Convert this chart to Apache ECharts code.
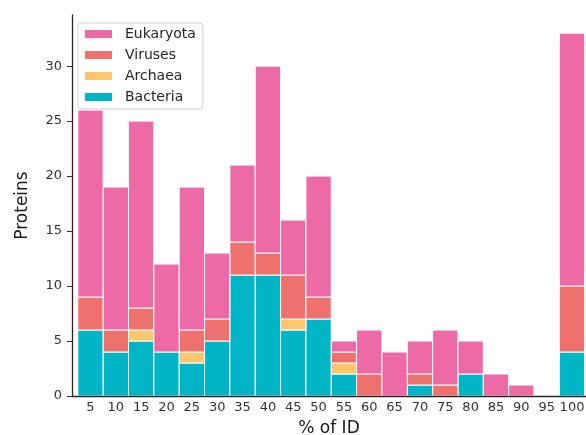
<!DOCTYPE html>
<html>
<head>
<meta charset="utf-8">
<script src="https://cdn.jsdelivr.net/npm/echarts@6/dist/echarts.min.js"></script>
<style>
  html, body { margin: 0; padding: 0; background: #fff; }
  #chart { width: 586px; height: 435px; }
</style>
</head>
<body>
<div id="chart"></div>
<script>
// Sequence identity bins (% of ID) and protein counts per domain
const bins = [5, 10, 15, 20, 25, 30, 35, 40, 45, 50, 55, 60, 65, 70, 75, 80, 85, 90, 95, 100];
const bacteria  = [6, 4, 5, 4, 3, 5, 11, 11, 6, 7, 2, 0, 0, 1, 0, 2, 0, 0, 0, 4];
const archaea   = [0, 0, 1, 0, 1, 0, 0, 0, 1, 0, 1, 0, 0, 0, 0, 0, 0, 0, 0, 0];
const viruses   = [3, 2, 2, 0, 2, 2, 3, 2, 4, 2, 1, 2, 0, 1, 1, 0, 0, 0, 0, 6];
const eukaryota = [17, 13, 17, 8, 13, 6, 7, 17, 5, 11, 1, 4, 4, 3, 5, 3, 2, 1, 0, 23];
const yTicks = [0, 5, 10, 15, 20, 25, 30];

const binWidth = 5;
const xMin = 1.35, xMax = 102.76;
const yMax = 34.65;

const font = 'DejaVu Sans';
const colors = {
  Eukaryota: '#ee6aa7',
  Viruses: '#ef716e',
  Archaea: '#fcc66c',
  Bacteria: '#00b6c6'
};

// Stack order, bottom to top
const layers = [
  ['Bacteria', bacteria],
  ['Archaea', archaea],
  ['Viruses', viruses],
  ['Eukaryota', eukaryota]
];

// Each histogram segment spans one bin horizontally and [base, top] vertically
function renderSegment(params, api) {
  const x = api.value(0);
  const y0 = api.value(1);
  const y1 = api.value(2);
  if (y1 <= y0) return null;
  const tl = api.coord([x - binWidth / 2, y1]);
  const br = api.coord([x + binWidth / 2, y0]);
  return {
    type: 'rect',
    shape: { x: tl[0], y: tl[1], width: br[0] - tl[0], height: br[1] - tl[1] },
    style: { fill: api.visual('color'), stroke: '#ffffff', lineWidth: 1 }
  };
}

const base = bins.map(() => 0);
const series = layers.map(([name, values]) => {
  const data = bins.map((b, i) => {
    const lo = base[i];
    const hi = lo + values[i];
    base[i] = hi;
    return [b, lo, hi];
  });
  return {
    name: name,
    type: 'custom',
    renderItem: renderSegment,
    itemStyle: { color: colors[name] },
    encode: { x: 0, y: [1, 2] },
    data: data
  };
});

const chart = echarts.init(document.getElementById('chart'), null, { renderer: 'canvas' });
chart.setOption({
  animation: false,
  backgroundColor: '#ffffff',
  textStyle: { fontFamily: font },
  grid: { left: 72, right: 0, top: 15, bottom: 39, containLabel: false, outerBoundsMode: 'none' },
  legend: {
    orient: 'vertical',
    left: 78,
    top: 23,
    data: ['Eukaryota', 'Viruses', 'Archaea', 'Bacteria'],
    icon: 'rect',
    itemWidth: 27,
    itemHeight: 8,
    itemGap: 7,
    padding: [4, 7, 5, 7],
    borderColor: '#d0d0d0',
    borderWidth: 1,
    borderRadius: 3,
    backgroundColor: 'rgba(255,255,255,0.85)',
    textStyle: { fontFamily: font, fontSize: 14, color: '#262626', padding: [0, 0, 0, 8] }
  },
  xAxis: {
    type: 'value',
    min: xMin,
    max: xMax,
    z: 10,
    name: '% of ID',
    nameLocation: 'middle',
    nameGap: 24,
    nameTextStyle: { fontFamily: font, fontSize: 17, color: '#1a1a1a' },
    axisLine: { show: true, lineStyle: { color: '#262626', width: 1.3 } },
    axisTick: { show: false },
    splitLine: { show: false },
    axisLabel: {
      customValues: bins,
      margin: 5,
      fontFamily: font,
      fontSize: 13,
      color: '#333333'
    }
  },
  yAxis: {
    type: 'value',
    min: 0,
    max: yMax,
    z: 10,
    name: 'Proteins',
    nameLocation: 'middle',
    nameGap: 41,
    nameTextStyle: { fontFamily: font, fontSize: 17, color: '#1a1a1a' },
    axisLine: { show: true, lineStyle: { color: '#262626', width: 1.3 } },
    axisTick: { show: true, customValues: yTicks, length: 5, lineStyle: { color: '#333333' } },
    splitLine: { show: false },
    axisLabel: {
      customValues: yTicks,
      margin: 10,
      fontFamily: font,
      fontSize: 13,
      color: '#333333'
    }
  },
  series: series
});
</script>
</body>
</html>
